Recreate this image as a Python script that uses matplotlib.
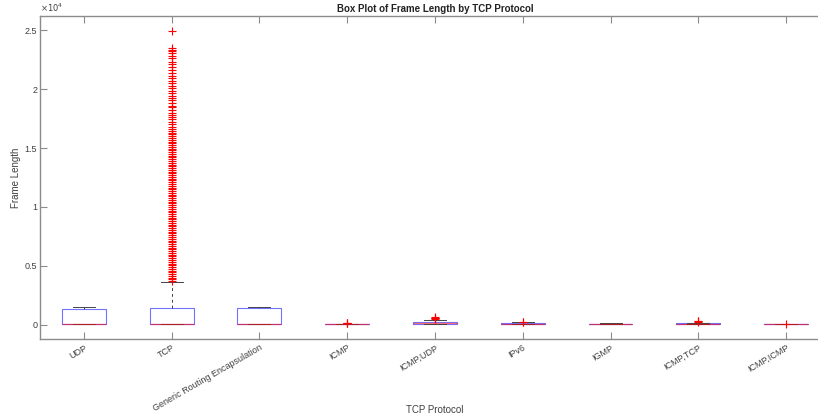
import matplotlib
matplotlib.use("Agg")
from matplotlib import pyplot as plt
from matplotlib.ticker import FuncFormatter

plt.rcParams["font.family"] = ["Liberation Sans", "DejaVu Sans"]

protocols = ["UDP", "TCP", "Generic Routing Encapsulation", "ICMP", "ICMP,UDP",
             "IPv6", "IGMP", "ICMP,TCP", "ICMP,ICMP"]

# box statistics (frame length, bytes)
whislo = [54, 54, 60, 74, 70, 70, 60, 66, 98]
q1 = [60, 60, 85, 74, 110, 90, 64, 80, 98]
med = [66, 66, 100, 74, 140, 110, 70, 100, 98]
q3 = [1360, 1470, 1470, 74, 260, 150, 100, 150, 98]
whishi = [1500, 3620, 1500, 74, 420, 200, 120, 190, 98]

tcp_fliers = [3700, 3850, 4000, 4150, 4300, 4450, 4600, 4750, 4900, 5050,
              5200, 5350, 5500, 5650, 5800, 5950, 6100, 6250, 6400, 6550,
              6700, 6850, 7000, 7150, 7300, 7450, 7600, 7750, 7900, 8050,
              8200, 8350, 8500, 8650, 8800, 8950, 9100, 9250, 9400, 9550,
              9700, 9850, 10000, 10150, 10300, 10450, 10600, 10750, 10900,
              11050, 11200, 11350, 11500, 11650, 11800, 11950, 12100, 12250,
              12400, 12550, 12700, 12850, 13000, 13150, 13300, 13450, 13600,
              13750, 13900, 14050, 14200, 14350, 14500, 14650, 14800, 14950,
              15100, 15250, 15400, 15550, 15700, 15850, 16000, 16150, 16300,
              16450, 16600, 16800, 17000, 17200, 17450, 17650, 17800, 18000,
              18250, 18450, 18600, 18800, 19050, 19250, 19400, 19650, 19850,
              20100, 20300, 20500, 20700, 20950, 21150, 21400, 21600, 21900,
              22100, 22300, 22600, 22800, 23050, 23200, 23350, 23500, 24900]
fliers = [
    [],
    tcp_fliers,
    [],
    [140, 160, 180],
    [520, 560, 600, 640],
    [240, 280],
    [],
    [280, 320, 360],
    [100],
]

stats = []
for i in range(len(protocols)):
    stats.append(dict(whislo=whislo[i], q1=q1[i], med=med[i], q3=q3[i],
                      whishi=whishi[i], fliers=fliers[i], label=protocols[i]))

fig = plt.figure(figsize=(8.18, 4.2), dpi=100)
ax = fig.add_axes([40 / 818, 81 / 420, 790 / 818, 323 / 420])

ax.bxp(
    stats,
    positions=range(1, len(protocols) + 1),
    widths=0.5,
    showfliers=True,
    boxprops=dict(color="#0000ff", lw=0.8, alpha=0.55),
    medianprops=dict(color="#ff0000", lw=0.9, alpha=0.55),
    whiskerprops=dict(color="#444444", lw=0.7, linestyle=(0, (3, 3))),
    capprops=dict(color="#444444", lw=0.7),
    capwidths=0.25,
    flierprops=dict(marker="+", markeredgecolor="#ff0000", markersize=6,
                    markeredgewidth=0.8, linestyle="none"),
)

ax.set_xlim(0.5, 9.5)
ax.set_ylim(-1200, 26200)
ax.set_yticks([0, 5000, 10000, 15000, 20000, 25000])
ax.yaxis.set_major_formatter(FuncFormatter(lambda v, p: f"{v / 1e4:g}"))
ax.set_xticks(range(1, len(protocols) + 1))
ax.set_xticklabels(protocols, rotation=30, ha="right", va="top",
                   rotation_mode="anchor")

for side in ["left", "bottom", "top"]:
    ax.spines[side].set_color("#8c8c8c")
    ax.spines[side].set_linewidth(1.0)
ax.spines["right"].set_visible(False)
ax.tick_params(axis="both", direction="in", length=5, width=0.8,
               colors="#8c8c8c", labelcolor="#404040", labelsize=6.5,
               top=True, pad=2)
ax.tick_params(axis="x", pad=3)

ax.text(0, 1.005, r"$\times10^{4}$", transform=ax.transAxes, fontsize=6,
        color="#404040", ha="left", va="bottom")
ax.set_title("Box Plot of Frame Length by TCP Protocol", fontsize=7,
             fontweight="bold", color="#222222", pad=3)
ax.set_xlabel("TCP Protocol", fontsize=7, color="#404040", labelpad=-6)
ax.set_ylabel("Frame Length", fontsize=7, color="#404040", labelpad=3)

fig.savefig("out.png", dpi=100)
